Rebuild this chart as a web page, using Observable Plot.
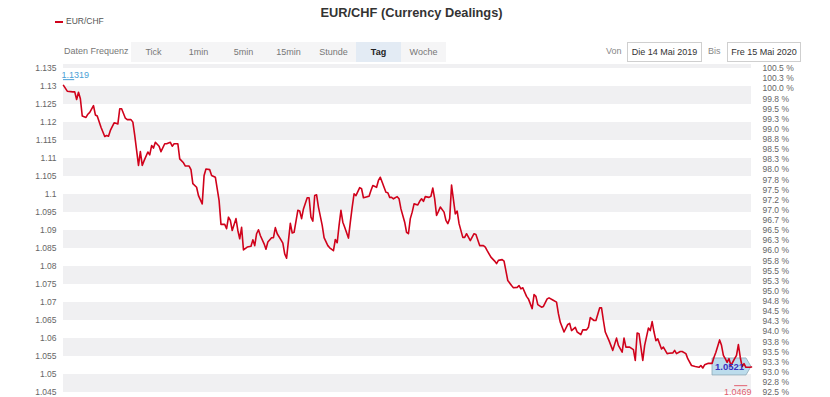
<!DOCTYPE html>
<html>
<head>
<meta charset="utf-8">
<script src="https://cdn.jsdelivr.net/npm/d3@7"></script>
<script src="https://cdn.jsdelivr.net/npm/@observablehq/plot@0.6"></script>
<style>
  html, body { margin: 0; padding: 0; background: #fff; }
  #page { position: relative; width: 830px; height: 397px; overflow: hidden; font-family: "Liberation Sans", Arial, sans-serif; }
  .abs { position: absolute; white-space: nowrap; }
  #title { left: 0; top: 5px; width: 823px; text-align: center; font-weight: bold; font-size: 12.8px; color: #333; }
  #legSwatch { left: 55px; top: 21px; width: 8px; height: 2px; background: #d0021b; }
  #legText { left: 66px; top: 16px; font-size: 8.5px; color: #555; }
  #freq { left: 64px; top: 46px; font-size: 9px; color: #777; }
  #buttons { left: 131px; top: 42px; height: 20px; display: flex; }
  .btn { width: 45px; height: 20px; line-height: 20px; text-align: center; font-size: 9px; color: #777; background: #f5f5f6; }
  .btn.sel { background: #e3ebf4; color: #222; font-weight: bold; }
  .lbl { font-size: 9px; color: #888; top: 46px; }
  .datebox { top: 42px; height: 18px; line-height: 18px; border: 1px solid #cfcfcf; font-size: 9px; color: #333; text-align: center; background: #fff; }
  #chart { position: absolute; left: 0; top: 56px; }
</style>
</head>
<body>
<div id="page">
  <div id="title" class="abs">EUR/CHF (Currency Dealings)</div>
  <div id="legSwatch" class="abs"></div>
  <div id="legText" class="abs">EUR/CHF</div>
  <div id="freq" class="abs">Daten Frequenz</div>
  <div id="buttons" class="abs"></div>
  <div class="abs lbl" style="left:606px">Von</div>
  <div class="abs datebox" style="left:627px;width:73px">Die 14 Mai 2019</div>
  <div class="abs lbl" style="left:708px">Bis</div>
  <div class="abs datebox" style="left:727px;width:72px">Fre 15 Mai 2020</div>
  <div id="chart"></div>
</div>
<script>
// ---- data ----
const startDay = "2019-05-14";
const endDay = "2020-05-15";
const frequencies = ["Tick", "1min", "5min", "15min", "Stunde", "Tag", "Woche"];
const selectedFrequency = "Tag";

// calendar days after startDay
const dayOffsets = [0,2,5,6,7,8,9,10,12,13,
14,16,17,18,20,22,23,24,25,27,
28,29,30,31,33,34,36,37,38,40,
41,42,43,45,46,47,48,49,51,52,
54,55,57,58,59,61,62,64,65,67,
68,69,71,72,74,75,76,78,79,81,
83,84,86,87,88,89,90,92,93,94,
95,96,98,100,101,102,103,104,105,107,
108,109,111,112,113,114,116,117,118,119,
120,121,122,123,125,126,127,128,130,131,
132,133,134,135,136,138,139,141,142,144,
145,146,147,148,149,150,152,153,154,155,
156,158,159,160,162,163,164,165,167,168,
169,170,172,173,174,175,176,178,179,180,
182,183,184,185,186,187,189,190,191,192,
193,195,196,197,198,199,200,201,203,204,
205,206,207,209,210,211,213,214,215,217,
219,220,222,224,225,226,228,230,231,232,
234,235,237,239,240,242,243,244,245,247,
248,250,251,252,253,255,256,258,259,261,
263,264,265,267,269,270,271,273,274,276,
277,279,280,281,283,284,286,287,288,289,
291,293,295,296,298,299,300,302,304,305,
306,307,309,310,312,313,314,315,316,317,
319,320,322,323,325,326,327,329,330,332,
333,335,337,339,340,341,342,344,346,347,
348,350,351,352,353,354,355,356,358,359,
360,361,362,363,364,366,367];

const rates = [1.1303,1.1287,1.1285,1.1285,1.1264,1.1284,1.1266,1.1218,1.1214,1.1223,
1.1228,1.1247,1.1221,1.1218,1.1187,1.1161,1.1164,1.1162,1.1178,1.1199,
1.1198,1.1196,1.1238,1.1238,1.1212,1.1208,1.1208,1.1201,1.1164,1.1081,
1.1119,1.1081,1.1094,1.1118,1.1110,1.1136,1.1129,1.1145,1.1134,1.1119,
1.1141,1.1141,1.1145,1.1134,1.1141,1.1141,1.1099,1.1088,1.1079,1.1079,
1.1069,1.1030,1.1020,1.0997,1.0974,1.1053,1.1071,1.1069,1.1053,1.1048,
1.0983,1.0917,1.0917,1.0905,1.0937,1.0928,1.0900,1.0933,1.0900,1.0877,
1.0909,1.0846,1.0854,1.0856,1.0874,1.0858,1.0891,1.0902,1.0886,1.0863,
1.0848,1.0868,1.0880,1.0880,1.0908,1.0891,1.0874,1.0865,1.0835,1.0823,
1.0872,1.0920,1.0893,1.0895,1.0956,1.0954,1.0933,1.0960,1.0991,1.0991,
1.0937,1.0926,1.0997,1.0999,1.0965,1.0914,1.0880,1.0858,1.0852,1.0844,
1.0875,1.0866,1.0914,1.0956,1.0923,1.0909,1.0879,1.0923,1.0965,1.1002,
1.0997,1.1019,1.1016,1.0991,1.0994,1.0995,1.1011,1.1025,1.1020,1.1039,
1.1048,1.1034,1.1006,1.1005,1.0992,1.0992,1.0988,1.0994,1.0988,1.0960,
1.0923,1.0895,1.0891,1.0933,1.0951,1.0974,1.0971,1.0981,1.0988,1.0981,
1.0994,1.0992,1.0995,1.1018,1.0988,1.0942,1.0953,1.0965,1.0951,1.0928,
1.0919,1.0933,1.1026,1.0946,1.0954,1.0919,1.0881,1.0881,1.0891,1.0872,
1.0891,1.0889,1.0858,1.0858,1.0854,1.0844,1.0826,1.0815,1.0808,1.0817,
1.0819,1.0815,1.0761,1.0747,1.0741,1.0742,1.0747,1.0738,1.0741,1.0717,
1.0710,1.0683,1.0722,1.0717,1.0694,1.0687,1.0689,1.0710,1.0713,1.0707,
1.0701,1.0669,1.0645,1.0618,1.0639,1.0642,1.0622,1.0631,1.0618,1.0611,
1.0624,1.0624,1.0631,1.0658,1.0650,1.0650,1.0685,1.0685,1.0650,1.0618,
1.0594,1.0567,1.0601,1.0581,1.0562,1.0601,1.0576,1.0576,1.0569,1.0539,
1.0615,1.0613,1.0539,1.0581,1.0629,1.0622,1.0647,1.0618,1.0594,1.0599,
1.0571,1.0576,1.0558,1.0559,1.0560,1.0567,1.0558,1.0564,1.0564,1.0558,
1.0544,1.0525,1.0522,1.0520,1.0525,1.0518,1.0527,1.0531,1.0531,1.0548,
1.0562,1.0596,1.0581,1.0553,1.0544,1.0534,1.0544,1.0525,1.0544,1.0553,
1.0583,1.0548,1.0522,1.0530,1.0520,1.0520,1.0521];

const periodHigh = 1.1319;
const periodLow = 1.0469;
const lastLabel = "1.0521";

const yTickValues = [1.135,1.13,1.125,1.12,1.115,1.11,1.105,1.1,1.095,1.09,1.085,1.08,1.075,1.07,1.065,1.06,1.055,1.05,1.045];
const yTickLabels = ["1.135","1.13","1.125","1.12","1.115","1.11","1.105","1.1","1.095","1.09","1.085","1.08","1.075","1.07","1.065","1.06","1.055","1.05","1.045"];
const pctLabels = ["100.5 %","100.3 %","100.0 %","99.8 %","99.5 %","99.3 %","99.0 %","98.8 %","98.5 %","98.3 %","98.0 %","97.8 %","97.5 %","97.2 %","97.0 %","96.7 %","96.5 %","96.3 %","96.0 %","95.8 %","95.5 %","95.3 %","95.0 %","94.8 %","94.5 %","94.3 %","94.0 %","93.8 %","93.5 %","93.3 %","93.0 %","92.8 %","92.5 %"];
const bandLows = [1.045,1.055,1.065,1.075,1.085,1.095,1.105,1.115,1.125,1.135];

// ---- build ----
const btnBox = document.getElementById("buttons");
frequencies.forEach(f => {
  const b = document.createElement("div");
  b.className = "btn" + (f === selectedFrequency ? " sel" : "");
  b.textContent = f;
  btnBox.appendChild(b);
});

const t0 = new Date(startDay + "T00:00:00Z");
const t1 = new Date(endDay + "T00:00:00Z");
const data = dayOffsets.map((d, i) => ({date: d3.utcDay.offset(t0, d), rate: rates[i]}));
const last = data[data.length - 1];
const bands = bandLows.map(lo => ({lo, hi: lo + 0.005}));
const yTop = yTickValues[0], yBot = yTickValues[yTickValues.length - 1];
const pctPositions = pctLabels.map((_, i) => yTop - i * (yTop - yBot) / (pctLabels.length - 1));

const H = 341;
const tag = (index, scales, values, dim) => {
  const sx = typeof scales.x === "function" ? scales.x : scales.scales.x.apply;
  const sy = typeof scales.y === "function" ? scales.y : scales.scales.y.apply;
  const X = sx(last.date), Y = sy(last.rate);
  const p = d3.create("svg:path")
    .attr("d", `M${X - 39},${Y - 8.5}H${X - 5}L${X},${Y}L${X - 5},${Y + 8.5}H${X - 39}Z`)
    .attr("fill", "#bcdcec")
    .attr("stroke", "#8fa9b8")
    .attr("stroke-width", 0.8);
  return p.node();
};

const chart = Plot.plot({
  width: 830,
  height: H,
  marginTop: 8,
  marginBottom: 5,
  marginLeft: 63,
  marginRight: 79,
  style: {fontFamily: "'Liberation Sans', Arial, sans-serif", fontSize: "8.5px", background: "transparent", overflow: "visible"},
  x: {type: "utc", domain: [t0, t1], axis: null},
  y: {domain: [1.045, 1.13611], axis: null},
  marks: [
    Plot.rect(bands, {x1: () => t0, x2: () => t1, y1: "lo", y2: "hi", fill: "#f0f0f2", clip: true}),
    Plot.text(yTickValues, {y: d => d, text: (d, i) => yTickLabels[i], frameAnchor: "left", textAnchor: "end", dx: -7, fill: "#666", fontSize: 8.5}),
    Plot.text(pctPositions, {y: d => d, text: (d, i) => pctLabels[i], frameAnchor: "right", textAnchor: "start", dx: 11, fill: "#666", fontSize: 8.5}),
    tag,
    Plot.line(data, {x: "date", y: "rate", stroke: "#d0021b", strokeWidth: 1.6, strokeLinejoin: "round"}),
    Plot.ruleY([periodHigh], {x1: () => t0, x2: () => d3.utcDay.offset(t0, 6), stroke: "#4a9fd6", strokeWidth: 1}),
    Plot.text([periodHigh], {x: () => t0, y: d => d, text: () => String(periodHigh), textAnchor: "start", dy: -5, dx: -2, fill: "#4a9fd6", fontSize: 9}),
    Plot.ruleY([periodLow], {x1: () => d3.utcDay.offset(t1, -9), x2: () => d3.utcDay.offset(t1, -2), stroke: "#e06070", strokeWidth: 1}),
    Plot.text([periodLow], {x: () => t1, y: d => d, text: () => String(periodLow), textAnchor: "end", dy: 6, fill: "#e06070", fontSize: 9}),
    Plot.text([last], {x: "date", y: "rate", text: () => lastLabel, dx: -22, fill: "#3a2fbf", fontWeight: "bold", fontSize: 9.5})
  ]
});
document.getElementById("chart").appendChild(chart);
</script>
</body>
</html>
